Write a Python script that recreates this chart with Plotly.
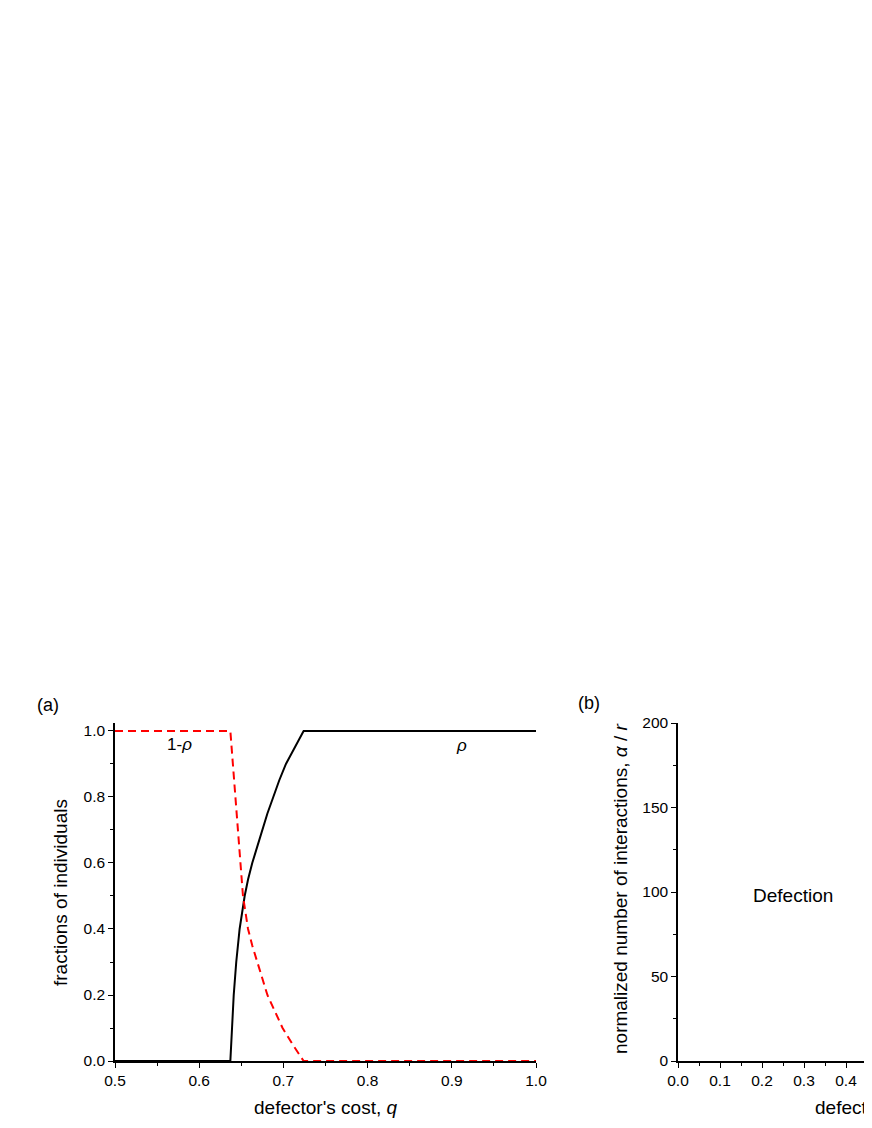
import plotly.graph_objects as go

# page geometry: the browser body adds an 8px margin, so the figure is shifted by OFF
OFF = 8
W, H = 872 - OFF, 1128 - OFF

# ---- data (panel a) ----
rho_q = [0.5, 0.637, 0.639, 0.641, 0.644, 0.648, 0.654, 0.658, 0.663, 0.669, 0.675,
         0.681, 0.688, 0.695, 0.703, 0.713, 0.724, 1.0]
rho = [0.0, 0.0, 0.1, 0.2, 0.3, 0.4, 0.5, 0.55, 0.6, 0.65, 0.7,
       0.75, 0.8, 0.85, 0.9, 0.95, 1.0, 1.0]

one_minus_rho_q = [0.5, 0.637, 0.640, 0.643, 0.646, 0.649, 0.652, 0.655, 0.658, 0.663, 0.669,
                   0.675, 0.681, 0.690, 0.699, 0.711, 0.724, 1.0]
one_minus_rho = [1.0, 1.0, 0.9, 0.8, 0.7, 0.6, 0.5, 0.45, 0.4, 0.35, 0.3,
                 0.25, 0.2, 0.15, 0.1, 0.05, 0.0, 0.0]

# ---- tick labels ----
a_xticks = [0.5, 0.6, 0.7, 0.8, 0.9, 1.0]
a_yticks = [0.0, 0.2, 0.4, 0.6, 0.8, 1.0]
b_xticks = [0.0, 0.1, 0.2, 0.3, 0.4]
b_yticks = [0, 50, 100, 150, 200]

FONT = "Arial, Liberation Sans, sans-serif"

def px_x(x):
    return (x - OFF) / W

def px_y(y):
    return (H - (y - OFF)) / H

fig = go.Figure()

fig.add_trace(go.Scatter(x=rho_q, y=rho, mode="lines",
                         line=dict(color="black", width=2),
                         xaxis="x", yaxis="y", showlegend=False))
fig.add_trace(go.Scatter(x=one_minus_rho_q, y=one_minus_rho, mode="lines",
                         line=dict(color="#ff0000", width=2, dash="8px,5px"),
                         xaxis="x", yaxis="y", showlegend=False))
# empty trace to anchor panel b axes
fig.add_trace(go.Scatter(x=[], y=[], mode="lines", xaxis="x2", yaxis="y2", showlegend=False))

ydom = [px_y(1061), px_y(723)]

common = dict(showline=True, linecolor="black", linewidth=1.5, mirror=False,
              ticks="outside", ticklen=5, tickwidth=1.3, tickcolor="black",
              showgrid=False, zeroline=False, automargin=False,
              tickfont=dict(family=FONT, size=15.5, color="black"))

minor = lambda d, t0: dict(ticks="outside", ticklen=3, dtick=d, tick0=t0,
                           tickcolor="black", tickwidth=1.3)

fig.update_layout(
    width=W, height=H,
    margin=dict(l=0, r=0, t=0, b=0),
    paper_bgcolor="white", plot_bgcolor="white",
    font=dict(family=FONT, color="black"),
    xaxis=dict(domain=[px_x(115), px_x(536)], range=[0.5, 1.0], anchor="y",
               tickvals=a_xticks, ticktext=[f"{v:.1f}" for v in a_xticks],
               minor=minor(0.05, 0.5), **common),
    yaxis=dict(domain=ydom, range=[0, 1.0242], anchor="x",
               tickvals=a_yticks, ticktext=[f"{v:.1f}" for v in a_yticks],
               minor=minor(0.1, 0), **common),
    xaxis2=dict(domain=[px_x(678), 1.0], range=[0, (872 - 678) / 420.0], anchor="y2",
                tickvals=b_xticks, ticktext=[f"{v:.1f}" for v in b_xticks],
                minor=minor(0.05, 0), **common),
    yaxis2=dict(domain=ydom, range=[0, 200], anchor="x2",
                tickvals=b_yticks, ticktext=[str(v) for v in b_yticks],
                minor=minor(25, 0), **common),
)

def A(text, x, y, size, xref="paper", yref="paper", angle=0, xanchor="center"):
    if xref == "paper":
        x = px_x(x)
    if yref == "paper":
        y = px_y(y)
    return dict(text=text, x=x, y=y, xref=xref, yref=yref, textangle=angle,
                xanchor=xanchor, yanchor="middle", showarrow=False,
                font=dict(size=size, family=FONT, color="black"))

ann = [
    A("(a)", 48, 705, 18),
    A("(b)", 589, 703, 18),
    A("defector's cost, <i>q</i>", 325, 1107, 19),
    A("fractions of individuals", 60, 893, 19, angle=-90),
    A("defector's cost, <i>q</i>", 813, 1107, 19, xanchor="left"),
    A("normalized number of interactions, <i>α</i> / <i>r</i>", 620, 889, 19, angle=-90),
    A("1-<i>ρ</i>", 0.577, 0.958, 17, xref="x", yref="y"),
    A("<i>ρ</i>", 0.911, 0.955, 17, xref="x", yref="y"),
    A("Defection", 0.274, 98, 19, xref="x2", yref="y2"),
]

fig.update_layout(annotations=ann)

fig.write_html("out.html")
